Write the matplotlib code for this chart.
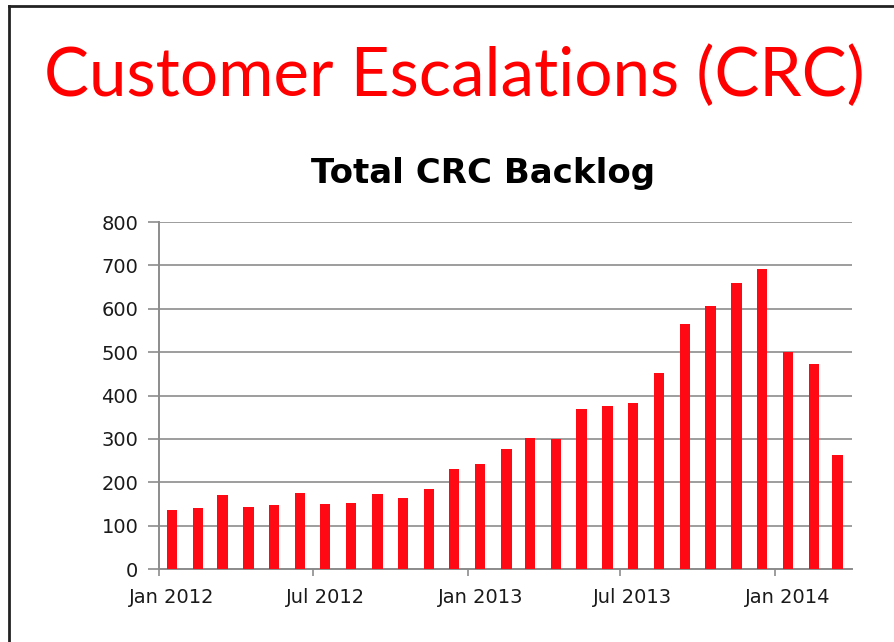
import numpy as np
import pandas as pd
import matplotlib
matplotlib.use('Agg')
import matplotlib.pyplot as plt
import matplotlib.dates as mdates
from matplotlib.lines import Line2D

# ── Data ──────────────────────────────────────────────────────────────────────
MONTHS = ['2012-01', '2012-02', '2012-03', '2012-04', '2012-05', '2012-06',
          '2012-07', '2012-08', '2012-09', '2012-10', '2012-11', '2012-12',
          '2013-01', '2013-02', '2013-03', '2013-04', '2013-05', '2013-06',
          '2013-07', '2013-08', '2013-09', '2013-10', '2013-11', '2013-12',
          '2014-01', '2014-02', '2014-03']
BACKLOG = [137, 141, 171, 144, 147, 176, 151, 152, 174, 164, 185, 230,
           243, 277, 303, 300, 370, 375, 383, 451, 564, 607, 659, 692,
           501, 473, 263]
Y_TICKS = [0, 100, 200, 300, 400, 500, 600, 700, 800]

TITLE     = 'Customer Escalations (CRC)'
SUBTITLE  = 'Total CRC Backlog'
BAR_RED   = '#ff0a14'
GRID_GREY = '#8c8c8c'

# bars sit mid-month, ticks at month starts
dates = pd.to_datetime(MONTHS) + pd.Timedelta(days=15)

fig = plt.figure(figsize=(8.94, 6.42), dpi=100)
ax = fig.add_axes([0.178, 0.1137, 0.775, 0.5405])

ax.bar(dates, BACKLOG, width=12.3, color=BAR_RED, zorder=3)

ax.set_ylim(0, 800)
ax.set_yticks(Y_TICKS)
ax.set_xlim(pd.Timestamp('2012-01-01'), pd.Timestamp('2014-04-02'))
# tick marks at Jan/Jul starts, labels centred on that month's bar
ax.xaxis.set_major_locator(mdates.MonthLocator(bymonth=[1, 7]))
ax.xaxis.set_major_formatter(plt.NullFormatter())
ax.xaxis.set_minor_locator(mdates.MonthLocator(bymonth=[1, 7], bymonthday=16))
ax.xaxis.set_minor_formatter(mdates.DateFormatter('%b %Y'))

ax.yaxis.grid(True, color=GRID_GREY, lw=1.2, zorder=0)
ax.set_axisbelow(True)
for s in ['top', 'right']:
    ax.spines[s].set_visible(False)
for s in ['left', 'bottom']:
    ax.spines[s].set_color(GRID_GREY)
    ax.spines[s].set_linewidth(1.4)
ax.tick_params(axis='y', length=8, width=1.2, color=GRID_GREY,
               labelsize=14, labelcolor='#1a1a1a', pad=7)
ax.tick_params(axis='x', which='major', length=5, width=1.2, color=GRID_GREY)
ax.tick_params(axis='x', which='minor', length=0,
               labelsize=14, labelcolor='#1a1a1a', pad=14)

# ── Titles ────────────────────────────────────────────────────────────────────
title = fig.text(0.508, 0.85, TITLE, color='#ff0000', fontsize=48,
                 family=['Lato', 'DejaVu Sans'],
                 ha='center', va='baseline')
# fit the big heading to the slide width (about 820 px)
fig.canvas.draw()
w = title.get_window_extent().width
title.set_fontsize(48 * 820.0 / w)

fig.text(0.540, 0.715, SUBTITLE, color='black', fontsize=24.5,
         fontweight='bold', ha='center', va='baseline')

# slide frame (left and top edges)
fig.add_artist(Line2D([0.0101, 0.0101], [0.0, 0.991], transform=fig.transFigure,
                      color='#222222', lw=2))
fig.add_artist(Line2D([0.0101, 1.0], [0.991, 0.991], transform=fig.transFigure,
                      color='#222222', lw=2))

fig.savefig('out.png', dpi=100)
